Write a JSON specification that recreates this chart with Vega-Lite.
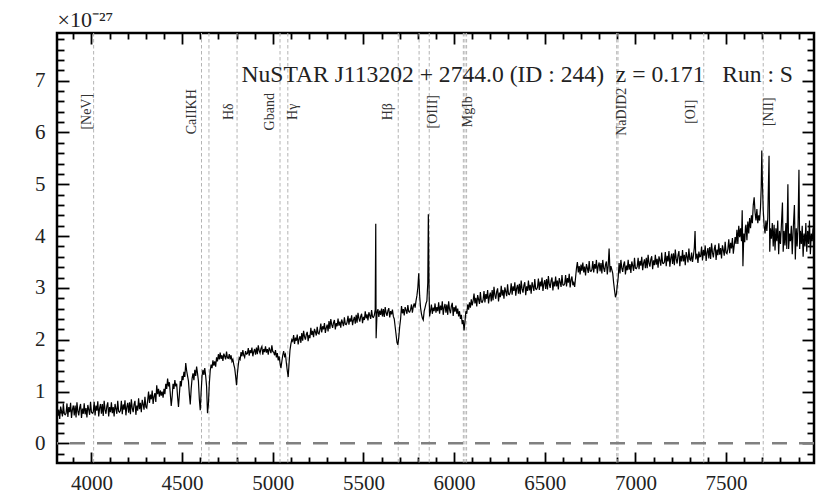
{
  "$schema": "https://vega.github.io/schema/vega-lite/v6.json",
  "width": 757,
  "height": 430,
  "autosize": {"type": "none"},
  "padding": {"left": 57, "top": 33, "right": 16, "bottom": 35},
  "background": "white",
  "config": {
    "view": {"stroke": "black", "strokeWidth": 2.5},
    "axis": {"grid": false, "domain": false, "tickColor": "black", "tickWidth": 1.8, "labelFont": "Liberation Serif", "labelFontSize": 21, "labelColor": "#222", "titleFont": "Liberation Serif", "labelOverlap": false, "labelFlush": false}
  },
  "datasets": {
    "spec": [
      {"w":3810,"f":0.74},{"w":3815,"f":0.53},{"w":3820,"f":0.65},{"w":3825,"f":0.47},{"w":3830,"f":0.71},{"w":3835,"f":0.62},{"w":3840,"f":0.52},{"w":3845,"f":0.77},{"w":3850,"f":0.57},{"w":3855,"f":0.55},
      {"w":3860,"f":0.58},{"w":3865,"f":0.77},{"w":3870,"f":0.51},{"w":3875,"f":0.70},{"w":3880,"f":0.60},{"w":3885,"f":0.78},{"w":3890,"f":0.49},{"w":3895,"f":0.65},{"w":3900,"f":0.73},{"w":3905,"f":0.54},
      {"w":3910,"f":0.73},{"w":3915,"f":0.50},{"w":3920,"f":0.79},{"w":3925,"f":0.62},{"w":3930,"f":0.54},{"w":3935,"f":0.69},{"w":3940,"f":0.76},{"w":3945,"f":0.49},{"w":3950,"f":0.67},{"w":3955,"f":0.57},
      {"w":3960,"f":0.77},{"w":3965,"f":0.56},{"w":3970,"f":0.68},{"w":3975,"f":0.50},{"w":3980,"f":0.74},{"w":3985,"f":0.65},{"w":3990,"f":0.55},{"w":3995,"f":0.80},{"w":4000,"f":0.60},{"w":4005,"f":0.58},
      {"w":4010,"f":0.61},{"w":4015,"f":0.80},{"w":4020,"f":0.54},{"w":4025,"f":0.73},{"w":4030,"f":0.63},{"w":4035,"f":0.81},{"w":4040,"f":0.52},{"w":4045,"f":0.68},{"w":4050,"f":0.76},{"w":4055,"f":0.57},
      {"w":4060,"f":0.76},{"w":4065,"f":0.53},{"w":4070,"f":0.82},{"w":4075,"f":0.65},{"w":4080,"f":0.57},{"w":4085,"f":0.72},{"w":4090,"f":0.79},{"w":4095,"f":0.52},{"w":4100,"f":0.70},{"w":4105,"f":0.60},
      {"w":4110,"f":0.79},{"w":4115,"f":0.58},{"w":4120,"f":0.70},{"w":4125,"f":0.52},{"w":4130,"f":0.76},{"w":4135,"f":0.67},{"w":4140,"f":0.57},{"w":4145,"f":0.82},{"w":4150,"f":0.62},{"w":4155,"f":0.60},
      {"w":4160,"f":0.63},{"w":4165,"f":0.82},{"w":4170,"f":0.56},{"w":4175,"f":0.75},{"w":4180,"f":0.65},{"w":4185,"f":0.83},{"w":4190,"f":0.54},{"w":4195,"f":0.70},{"w":4200,"f":0.78},{"w":4205,"f":0.59},
      {"w":4210,"f":0.79},{"w":4215,"f":0.56},{"w":4220,"f":0.85},{"w":4225,"f":0.68},{"w":4230,"f":0.60},{"w":4235,"f":0.75},{"w":4240,"f":0.82},{"w":4245,"f":0.55},{"w":4250,"f":0.73},{"w":4255,"f":0.63},
      {"w":4260,"f":0.87},{"w":4265,"f":0.66},{"w":4270,"f":0.78},{"w":4275,"f":0.60},{"w":4280,"f":0.84},{"w":4285,"f":0.75},{"w":4290,"f":0.65},{"w":4295,"f":0.90},{"w":4300,"f":0.70},{"w":4305,"f":0.68},
      {"w":4310,"f":0.83},{"w":4315,"f":1.00},{"w":4320,"f":0.78},{"w":4325,"f":0.94},{"w":4330,"f":0.85},{"w":4335,"f":1.02},{"w":4340,"f":0.76},{"w":4345,"f":0.90},{"w":4350,"f":0.97},{"w":4355,"f":0.80},
      {"w":4360,"f":1.12},{"w":4365,"f":0.95},{"w":4370,"f":1.05},{"w":4375,"f":0.90},{"w":4380,"f":1.02},{"w":4385,"f":0.92},{"w":4390,"f":1.00},{"w":4395,"f":0.88},{"w":4400,"f":1.05},{"w":4405,"f":0.95},
      {"w":4410,"f":1.15},{"w":4415,"f":1.05},{"w":4420,"f":1.25},{"w":4425,"f":1.10},{"w":4430,"f":1.18},{"w":4435,"f":0.95},{"w":4440,"f":0.72},{"w":4445,"f":0.90},{"w":4450,"f":1.15},{"w":4455,"f":1.05},
      {"w":4460,"f":1.22},{"w":4465,"f":1.10},{"w":4470,"f":1.15},{"w":4475,"f":0.90},{"w":4480,"f":0.70},{"w":4485,"f":0.95},{"w":4490,"f":1.20},{"w":4495,"f":1.10},{"w":4500,"f":1.30},{"w":4505,"f":1.22},
      {"w":4510,"f":1.38},{"w":4515,"f":1.28},{"w":4520,"f":1.55},{"w":4525,"f":1.40},{"w":4530,"f":1.30},{"w":4535,"f":1.20},{"w":4540,"f":0.95},{"w":4545,"f":0.75},{"w":4550,"f":1.05},{"w":4555,"f":1.25},
      {"w":4560,"f":1.35},{"w":4565,"f":1.22},{"w":4570,"f":1.42},{"w":4575,"f":1.30},{"w":4580,"f":1.48},{"w":4585,"f":1.35},{"w":4590,"f":1.20},{"w":4595,"f":0.85},{"w":4600,"f":0.64},{"w":4605,"f":1.00},
      {"w":4610,"f":1.30},{"w":4615,"f":1.42},{"w":4620,"f":1.32},{"w":4625,"f":1.45},{"w":4630,"f":1.30},{"w":4635,"f":1.10},{"w":4640,"f":0.58},{"w":4645,"f":0.75},{"w":4650,"f":1.15},{"w":4655,"f":1.40},
      {"w":4660,"f":1.52},{"w":4665,"f":1.45},{"w":4670,"f":1.60},{"w":4675,"f":1.50},{"w":4680,"f":1.58},{"w":4685,"f":1.48},{"w":4690,"f":1.66},{"w":4695,"f":1.58},{"w":4700,"f":1.72},{"w":4705,"f":1.62},
      {"w":4710,"f":1.75},{"w":4715,"f":1.63},{"w":4720,"f":1.70},{"w":4725,"f":1.59},{"w":4730,"f":1.73},{"w":4735,"f":1.68},{"w":4740,"f":1.62},{"w":4745,"f":1.77},{"w":4750,"f":1.65},{"w":4755,"f":1.64},
      {"w":4760,"f":1.72},{"w":4765,"f":1.62},{"w":4770,"f":1.70},{"w":4775,"f":1.58},{"w":4780,"f":1.62},{"w":4785,"f":1.52},{"w":4790,"f":1.45},{"w":4795,"f":1.30},{"w":4800,"f":1.12},{"w":4805,"f":1.35},
      {"w":4810,"f":1.52},{"w":4815,"f":1.65},{"w":4820,"f":1.62},{"w":4825,"f":1.76},{"w":4830,"f":1.68},{"w":4835,"f":1.80},{"w":4840,"f":1.70},{"w":4845,"f":1.66},{"w":4850,"f":1.78},{"w":4855,"f":1.72},
      {"w":4860,"f":1.73},{"w":4865,"f":1.84},{"w":4870,"f":1.69},{"w":4875,"f":1.80},{"w":4880,"f":1.74},{"w":4885,"f":1.85},{"w":4890,"f":1.68},{"w":4895,"f":1.77},{"w":4900,"f":1.82},{"w":4905,"f":1.71},
      {"w":4910,"f":1.85},{"w":4915,"f":1.72},{"w":4920,"f":1.89},{"w":4925,"f":1.79},{"w":4930,"f":1.74},{"w":4935,"f":1.83},{"w":4940,"f":1.87},{"w":4945,"f":1.71},{"w":4950,"f":1.82},{"w":4955,"f":1.76},
      {"w":4960,"f":1.87},{"w":4965,"f":1.75},{"w":4970,"f":1.82},{"w":4975,"f":1.71},{"w":4980,"f":1.85},{"w":4985,"f":1.80},{"w":4990,"f":1.74},{"w":4995,"f":1.89},{"w":5000,"f":1.77},{"w":5005,"f":1.76},
      {"w":5010,"f":1.70},{"w":5015,"f":1.80},{"w":5020,"f":1.66},{"w":5025,"f":1.74},{"w":5030,"f":1.60},{"w":5035,"f":1.68},{"w":5040,"f":1.55},{"w":5045,"f":1.45},{"w":5050,"f":1.58},{"w":5055,"f":1.70},
      {"w":5060,"f":1.78},{"w":5065,"f":1.68},{"w":5070,"f":1.72},{"w":5075,"f":1.55},{"w":5080,"f":1.40},{"w":5085,"f":1.28},{"w":5090,"f":1.55},{"w":5095,"f":1.80},{"w":5100,"f":1.92},{"w":5105,"f":2.00},
      {"w":5110,"f":1.97},{"w":5115,"f":2.09},{"w":5120,"f":1.92},{"w":5125,"f":2.04},{"w":5130,"f":1.98},{"w":5135,"f":2.10},{"w":5140,"f":1.91},{"w":5145,"f":2.01},{"w":5150,"f":2.07},{"w":5155,"f":1.94},
      {"w":5160,"f":2.13},{"w":5165,"f":1.98},{"w":5170,"f":2.17},{"w":5175,"f":2.06},{"w":5180,"f":2.00},{"w":5185,"f":2.10},{"w":5190,"f":2.15},{"w":5195,"f":1.97},{"w":5200,"f":2.09},{"w":5205,"f":2.03},
      {"w":5210,"f":2.23},{"w":5215,"f":2.09},{"w":5220,"f":2.17},{"w":5225,"f":2.05},{"w":5230,"f":2.21},{"w":5235,"f":2.15},{"w":5240,"f":2.08},{"w":5245,"f":2.25},{"w":5250,"f":2.12},{"w":5255,"f":2.11},
      {"w":5260,"f":2.19},{"w":5265,"f":2.31},{"w":5270,"f":2.14},{"w":5275,"f":2.26},{"w":5280,"f":2.20},{"w":5285,"f":2.32},{"w":5290,"f":2.13},{"w":5295,"f":2.23},{"w":5300,"f":2.29},{"w":5305,"f":2.16},
      {"w":5310,"f":2.36},{"w":5315,"f":2.21},{"w":5320,"f":2.40},{"w":5325,"f":2.29},{"w":5330,"f":2.23},{"w":5335,"f":2.33},{"w":5340,"f":2.38},{"w":5345,"f":2.20},{"w":5350,"f":2.32},{"w":5355,"f":2.26},
      {"w":5360,"f":2.41},{"w":5365,"f":2.27},{"w":5370,"f":2.35},{"w":5375,"f":2.23},{"w":5380,"f":2.39},{"w":5385,"f":2.33},{"w":5390,"f":2.26},{"w":5395,"f":2.43},{"w":5400,"f":2.30},{"w":5405,"f":2.29},
      {"w":5410,"f":2.34},{"w":5415,"f":2.46},{"w":5420,"f":2.29},{"w":5425,"f":2.41},{"w":5430,"f":2.35},{"w":5435,"f":2.47},{"w":5440,"f":2.28},{"w":5445,"f":2.38},{"w":5450,"f":2.44},{"w":5455,"f":2.31},
      {"w":5460,"f":2.48},{"w":5465,"f":2.33},{"w":5470,"f":2.52},{"w":5475,"f":2.41},{"w":5480,"f":2.35},{"w":5485,"f":2.45},{"w":5490,"f":2.50},{"w":5495,"f":2.32},{"w":5500,"f":2.44},{"w":5505,"f":2.38},
      {"w":5510,"f":2.55},{"w":5515,"f":2.41},{"w":5520,"f":2.49},{"w":5525,"f":2.37},{"w":5530,"f":2.53},{"w":5535,"f":2.47},{"w":5540,"f":2.40},{"w":5545,"f":2.57},{"w":5550,"f":2.44},{"w":5555,"f":2.43},
      {"w":5560,"f":2.47},{"w":5565,"f":2.58},{"w":5568,"f":4.24},{"w":5570,"f":2.03},{"w":5575,"f":2.52},{"w":5580,"f":2.59},{"w":5585,"f":2.44},{"w":5590,"f":2.56},{"w":5595,"f":2.48},{"w":5600,"f":2.60},{"w":5605,"f":2.45},
      {"w":5610,"f":2.59},{"w":5615,"f":2.44},{"w":5620,"f":2.63},{"w":5625,"f":2.52},{"w":5630,"f":2.46},{"w":5635,"f":2.56},{"w":5640,"f":2.61},{"w":5645,"f":2.43},{"w":5650,"f":2.55},{"w":5655,"f":2.49},
      {"w":5660,"f":2.58},{"w":5665,"f":2.45},{"w":5670,"f":2.40},{"w":5675,"f":2.25},{"w":5680,"f":2.10},{"w":5685,"f":1.95},{"w":5690,"f":1.90},{"w":5695,"f":2.05},{"w":5700,"f":2.25},{"w":5705,"f":2.40},
      {"w":5710,"f":2.65},{"w":5715,"f":2.51},{"w":5720,"f":2.59},{"w":5725,"f":2.47},{"w":5730,"f":2.63},{"w":5735,"f":2.57},{"w":5740,"f":2.50},{"w":5745,"f":2.67},{"w":5750,"f":2.54},{"w":5755,"f":2.53},
      {"w":5760,"f":2.58},{"w":5765,"f":2.68},{"w":5770,"f":2.52},{"w":5775,"f":2.64},{"w":5780,"f":2.70},{"w":5785,"f":2.62},{"w":5790,"f":2.75},{"w":5795,"f":2.85},{"w":5800,"f":3.00},{"w":5805,"f":3.28},
      {"w":5810,"f":2.85},{"w":5815,"f":2.62},{"w":5820,"f":2.50},{"w":5825,"f":2.42},{"w":5830,"f":2.38},{"w":5835,"f":2.55},{"w":5840,"f":2.62},{"w":5845,"f":2.70},{"w":5850,"f":2.75},{"w":5855,"f":3.10},
      {"w":5858,"f":4.42},{"w":5862,"f":2.95},{"w":5865,"f":2.45},{"w":5870,"f":2.55},{"w":5875,"f":2.68},{"w":5880,"f":2.50},{"w":5885,"f":2.62},{"w":5890,"f":2.55},{"w":5895,"f":2.70},{"w":5900,"f":2.52},{"w":5905,"f":2.63},
      {"w":5910,"f":2.55},{"w":5915,"f":2.72},{"w":5920,"f":2.50},{"w":5925,"f":2.66},{"w":5930,"f":2.57},{"w":5935,"f":2.74},{"w":5940,"f":2.48},{"w":5945,"f":2.62},{"w":5950,"f":2.69},{"w":5955,"f":2.52},
      {"w":5960,"f":2.68},{"w":5965,"f":2.48},{"w":5970,"f":2.74},{"w":5975,"f":2.58},{"w":5980,"f":2.51},{"w":5985,"f":2.65},{"w":5990,"f":2.71},{"w":5995,"f":2.46},{"w":6000,"f":2.63},{"w":6005,"f":2.54},
      {"w":6010,"f":2.66},{"w":6015,"f":2.50},{"w":6020,"f":2.60},{"w":6025,"f":2.45},{"w":6030,"f":2.55},{"w":6035,"f":2.40},{"w":6040,"f":2.48},{"w":6045,"f":2.30},{"w":6050,"f":2.38},{"w":6055,"f":2.18},
      {"w":6060,"f":2.35},{"w":6065,"f":2.55},{"w":6070,"f":2.50},{"w":6075,"f":2.68},{"w":6080,"f":2.58},{"w":6085,"f":2.72},{"w":6090,"f":2.62},{"w":6095,"f":2.78},{"w":6100,"f":2.66},{"w":6105,"f":2.75},
      {"w":6110,"f":2.89},{"w":6115,"f":2.70},{"w":6120,"f":2.81},{"w":6125,"f":2.64},{"w":6130,"f":2.86},{"w":6135,"f":2.78},{"w":6140,"f":2.69},{"w":6145,"f":2.92},{"w":6150,"f":2.73},{"w":6155,"f":2.72},
      {"w":6160,"f":2.77},{"w":6165,"f":2.94},{"w":6170,"f":2.72},{"w":6175,"f":2.88},{"w":6180,"f":2.79},{"w":6185,"f":2.96},{"w":6190,"f":2.70},{"w":6195,"f":2.84},{"w":6200,"f":2.91},{"w":6205,"f":2.74},
      {"w":6210,"f":2.96},{"w":6215,"f":2.76},{"w":6220,"f":3.02},{"w":6225,"f":2.86},{"w":6230,"f":2.79},{"w":6235,"f":2.93},{"w":6240,"f":2.99},{"w":6245,"f":2.74},{"w":6250,"f":2.91},{"w":6255,"f":2.82},
      {"w":6260,"f":3.04},{"w":6265,"f":2.85},{"w":6270,"f":2.96},{"w":6275,"f":2.79},{"w":6280,"f":3.01},{"w":6285,"f":2.93},{"w":6290,"f":2.84},{"w":6295,"f":3.07},{"w":6300,"f":2.88},{"w":6305,"f":2.87},
      {"w":6310,"f":2.92},{"w":6315,"f":3.09},{"w":6320,"f":2.87},{"w":6325,"f":3.03},{"w":6330,"f":2.94},{"w":6335,"f":3.11},{"w":6340,"f":2.85},{"w":6345,"f":2.99},{"w":6350,"f":3.06},{"w":6355,"f":2.89},
      {"w":6360,"f":3.08},{"w":6365,"f":2.88},{"w":6370,"f":3.14},{"w":6375,"f":2.98},{"w":6380,"f":2.91},{"w":6385,"f":3.05},{"w":6390,"f":3.11},{"w":6395,"f":2.86},{"w":6400,"f":3.03},{"w":6405,"f":2.94},
      {"w":6410,"f":3.14},{"w":6415,"f":2.95},{"w":6420,"f":3.06},{"w":6425,"f":2.89},{"w":6430,"f":3.11},{"w":6435,"f":3.03},{"w":6440,"f":2.94},{"w":6445,"f":3.17},{"w":6450,"f":2.98},{"w":6455,"f":2.97},
      {"w":6460,"f":3.01},{"w":6465,"f":3.18},{"w":6470,"f":2.96},{"w":6475,"f":3.12},{"w":6480,"f":3.03},{"w":6485,"f":3.20},{"w":6490,"f":2.94},{"w":6495,"f":3.08},{"w":6500,"f":3.15},{"w":6505,"f":2.98},
      {"w":6510,"f":3.17},{"w":6515,"f":2.97},{"w":6520,"f":3.23},{"w":6525,"f":3.07},{"w":6530,"f":3.00},{"w":6535,"f":3.14},{"w":6540,"f":3.20},{"w":6545,"f":2.95},{"w":6550,"f":3.12},{"w":6555,"f":3.03},
      {"w":6560,"f":3.22},{"w":6565,"f":3.03},{"w":6570,"f":3.14},{"w":6575,"f":2.97},{"w":6580,"f":3.19},{"w":6585,"f":3.11},{"w":6590,"f":3.02},{"w":6595,"f":3.25},{"w":6600,"f":3.06},{"w":6605,"f":3.05},
      {"w":6610,"f":3.08},{"w":6615,"f":3.25},{"w":6620,"f":3.03},{"w":6625,"f":3.19},{"w":6630,"f":3.10},{"w":6635,"f":3.27},{"w":6640,"f":3.01},{"w":6645,"f":3.15},{"w":6650,"f":3.22},{"w":6655,"f":3.05},
      {"w":6660,"f":3.10},{"w":6665,"f":3.02},{"w":6670,"f":3.20},{"w":6675,"f":3.38},{"w":6680,"f":3.50},{"w":6685,"f":3.30},{"w":6690,"f":3.42},{"w":6695,"f":3.26},{"w":6700,"f":3.45},{"w":6705,"f":3.33},
      {"w":6710,"f":3.49},{"w":6715,"f":3.30},{"w":6720,"f":3.41},{"w":6725,"f":3.24},{"w":6730,"f":3.46},{"w":6735,"f":3.38},{"w":6740,"f":3.29},{"w":6745,"f":3.52},{"w":6750,"f":3.33},{"w":6755,"f":3.32},
      {"w":6760,"f":3.35},{"w":6765,"f":3.52},{"w":6770,"f":3.30},{"w":6775,"f":3.46},{"w":6780,"f":3.37},{"w":6785,"f":3.54},{"w":6790,"f":3.28},{"w":6795,"f":3.42},{"w":6800,"f":3.49},{"w":6805,"f":3.32},
      {"w":6810,"f":3.48},{"w":6815,"f":3.28},{"w":6820,"f":3.54},{"w":6825,"f":3.38},{"w":6830,"f":3.31},{"w":6835,"f":3.45},{"w":6840,"f":3.51},{"w":6845,"f":3.26},{"w":6850,"f":3.43},{"w":6855,"f":3.76},
      {"w":6860,"f":3.30},{"w":6865,"f":3.42},{"w":6870,"f":3.35},{"w":6875,"f":3.28},{"w":6880,"f":3.10},{"w":6885,"f":2.95},{"w":6890,"f":2.82},{"w":6895,"f":2.88},{"w":6900,"f":3.05},{"w":6905,"f":3.20},
      {"w":6910,"f":3.48},{"w":6915,"f":3.28},{"w":6920,"f":3.54},{"w":6925,"f":3.38},{"w":6930,"f":3.31},{"w":6935,"f":3.45},{"w":6940,"f":3.51},{"w":6945,"f":3.26},{"w":6950,"f":3.43},{"w":6955,"f":3.34},
      {"w":6960,"f":3.54},{"w":6965,"f":3.35},{"w":6970,"f":3.46},{"w":6975,"f":3.29},{"w":6980,"f":3.51},{"w":6985,"f":3.43},{"w":6990,"f":3.33},{"w":6995,"f":3.58},{"w":7000,"f":3.38},{"w":7005,"f":3.37},
      {"w":7010,"f":3.41},{"w":7015,"f":3.58},{"w":7020,"f":3.36},{"w":7025,"f":3.52},{"w":7030,"f":3.43},{"w":7035,"f":3.60},{"w":7040,"f":3.34},{"w":7045,"f":3.48},{"w":7050,"f":3.55},{"w":7055,"f":3.38},
      {"w":7060,"f":3.58},{"w":7065,"f":3.38},{"w":7070,"f":3.64},{"w":7075,"f":3.48},{"w":7080,"f":3.41},{"w":7085,"f":3.55},{"w":7090,"f":3.61},{"w":7095,"f":3.36},{"w":7100,"f":3.53},{"w":7105,"f":3.44},
      {"w":7110,"f":3.64},{"w":7115,"f":3.45},{"w":7120,"f":3.56},{"w":7125,"f":3.39},{"w":7130,"f":3.61},{"w":7135,"f":3.53},{"w":7140,"f":3.43},{"w":7145,"f":3.68},{"w":7150,"f":3.48},{"w":7155,"f":3.47},
      {"w":7160,"f":3.50},{"w":7165,"f":3.69},{"w":7170,"f":3.42},{"w":7175,"f":3.62},{"w":7180,"f":3.51},{"w":7185,"f":3.71},{"w":7190,"f":3.41},{"w":7195,"f":3.57},{"w":7200,"f":3.66},{"w":7205,"f":3.46},
      {"w":7210,"f":3.67},{"w":7215,"f":3.44},{"w":7220,"f":3.74},{"w":7225,"f":3.56},{"w":7230,"f":3.47},{"w":7235,"f":3.63},{"w":7240,"f":3.71},{"w":7245,"f":3.42},{"w":7250,"f":3.62},{"w":7255,"f":3.51},
      {"w":7260,"f":3.73},{"w":7265,"f":3.51},{"w":7270,"f":3.64},{"w":7275,"f":3.44},{"w":7280,"f":3.69},{"w":7285,"f":3.60},{"w":7290,"f":3.49},{"w":7295,"f":3.76},{"w":7300,"f":3.55},{"w":7305,"f":3.53},
      {"w":7310,"f":3.68},{"w":7315,"f":3.50},{"w":7320,"f":3.62},{"w":7325,"f":3.78},{"w":7329,"f":4.10},{"w":7333,"f":3.55},{"w":7340,"f":3.66},{"w":7345,"f":3.48},{"w":7350,"f":3.70},{"w":7355,"f":3.60},
      {"w":7360,"f":3.61},{"w":7365,"f":3.80},{"w":7370,"f":3.53},{"w":7375,"f":3.73},{"w":7380,"f":3.62},{"w":7385,"f":3.82},{"w":7390,"f":3.52},{"w":7395,"f":3.68},{"w":7400,"f":3.77},{"w":7405,"f":3.57},
      {"w":7410,"f":3.79},{"w":7415,"f":3.56},{"w":7420,"f":3.86},{"w":7425,"f":3.68},{"w":7430,"f":3.59},{"w":7435,"f":3.75},{"w":7440,"f":3.83},{"w":7445,"f":3.54},{"w":7450,"f":3.74},{"w":7455,"f":3.63},
      {"w":7460,"f":3.86},{"w":7465,"f":3.64},{"w":7470,"f":3.77},{"w":7475,"f":3.57},{"w":7480,"f":3.82},{"w":7485,"f":3.73},{"w":7490,"f":3.62},{"w":7495,"f":3.89},{"w":7500,"f":3.68},{"w":7505,"f":3.66},
      {"w":7510,"f":3.75},{"w":7515,"f":3.94},{"w":7520,"f":3.67},{"w":7525,"f":3.87},{"w":7530,"f":3.76},{"w":7535,"f":3.96},{"w":7540,"f":3.66},{"w":7545,"f":3.82},{"w":7550,"f":3.98},{"w":7555,"f":3.85},
      {"w":7560,"f":4.12},{"w":7565,"f":3.85},{"w":7570,"f":4.20},{"w":7575,"f":3.98},{"w":7580,"f":4.15},{"w":7585,"f":3.90},{"w":7589,"f":4.50},{"w":7593,"f":3.42},{"w":7598,"f":4.05},{"w":7603,"f":3.88},{"w":7607,"f":4.18},
      {"w":7610,"f":4.22},{"w":7615,"f":3.92},{"w":7620,"f":4.28},{"w":7625,"f":4.05},{"w":7630,"f":4.35},{"w":7635,"f":4.15},{"w":7640,"f":4.40},{"w":7645,"f":4.25},{"w":7650,"f":4.60},{"w":7655,"f":4.75},
      {"w":7660,"f":4.45},{"w":7665,"f":4.30},{"w":7670,"f":4.52},{"w":7675,"f":4.25},{"w":7680,"f":4.40},{"w":7685,"f":4.30},{"w":7690,"f":4.55},{"w":7694,"f":4.95},{"w":7697,"f":5.65},{"w":7700,"f":5.10},{"w":7705,"f":4.50},
      {"w":7710,"f":4.20},{"w":7715,"f":4.05},{"w":7720,"f":4.30},{"w":7725,"f":4.10},{"w":7730,"f":4.35},{"w":7737,"f":5.55},{"w":7741,"f":3.70},{"w":7745,"f":4.15},{"w":7750,"f":3.95},{"w":7755,"f":4.25},
      {"w":7760,"f":3.80},{"w":7765,"f":4.22},{"w":7770,"f":3.72},{"w":7775,"f":4.15},{"w":7780,"f":3.90},{"w":7785,"f":4.30},{"w":7790,"f":3.65},{"w":7795,"f":4.10},{"w":7800,"f":3.85},{"w":7805,"f":4.20},
      {"w":7811,"f":4.65},{"w":7815,"f":3.70},{"w":7820,"f":4.10},{"w":7825,"f":3.82},{"w":7830,"f":4.25},{"w":7835,"f":3.75},{"w":7841,"f":5.00},{"w":7845,"f":3.75},{"w":7850,"f":4.05},{"w":7855,"f":3.90},
      {"w":7860,"f":4.20},{"w":7865,"f":3.65},{"w":7870,"f":4.10},{"w":7877,"f":4.60},{"w":7882,"f":3.55},{"w":7887,"f":4.15},{"w":7892,"f":3.80},{"w":7897,"f":4.20},{"w":7902,"f":5.28},{"w":7906,"f":3.75},
      {"w":7910,"f":4.10},{"w":7915,"f":3.85},{"w":7920,"f":4.20},{"w":7925,"f":3.60},{"w":7930,"f":4.05},{"w":7935,"f":3.80},{"w":7940,"f":4.25},{"w":7945,"f":3.70},{"w":7950,"f":4.10},{"w":7955,"f":3.85},
      {"w":7960,"f":4.30},{"w":7965,"f":3.65},{"w":7970,"f":4.05},{"w":7975,"f":3.90},{"w":7980,"f":4.15},{"w":7985,"f":3.95}
    ],
    "lines": [
      {"w":4012},{"w":4607},{"w":4648},{"w":4803},{"w":5040},{"w":5083},{"w":5692},{"w":5807},{"w":5863},{"w":6051},{"w":6060},{"w":6069},{"w":6897},{"w":6904},{"w":7377},{"w":7705}
    ],
    "labels": [
      {"w":3975,"name":"[NeV]"},{"w":4557,"name":"CaIIKH"},{"w":4758,"name":"Hδ"},{"w":4987,"name":"Gband"},{"w":5114,"name":"Hγ"},{"w":5638,"name":"Hβ"},{"w":5886,"name":"[OIII]"},{"w":6079,"name":"MgIb"},{"w":6926,"name":"NaDID2"},{"w":7309,"name":"[OI]"},{"w":7737,"name":"[NII]"}
    ],
    "info": [{"t":"NuSTAR J113202 + 2744.0 (ID : 244)\u00a0\u00a0z = 0.171\u00a0\u00a0\u00a0Run : S"}]
  },
  "resolve": {"axis": {"x": "independent", "y": "independent"}},
  "layer": [
    {
      "data": {"name": "lines"},
      "mark": {"type": "rule", "color": "#b4b4b4", "strokeWidth": 1, "strokeDash": [3.5, 2.5]},
      "encoding": {
        "x": {"field": "w", "type": "quantitative", "scale": {"domain": [3810, 7985], "nice": false, "zero": false},
          "axis": {"orient": "top", "tickCount": 100, "values": [3900,4000,4100,4200,4300,4400,4500,4600,4700,4800,4900,5000,5100,5200,5300,5400,5500,5600,5700,5800,5900,6000,6100,6200,6300,6400,6500,6600,6700,6800,6900,7000,7100,7200,7300,7400,7500,7600,7700,7800,7900],
            "labels": false, "title": null, "tickSize": {"condition": {"test": "datum.value % 500 === 0", "value": -11}, "value": -6}}}
      }
    },
    {
      "data": {"name": "spec"},
      "mark": {"type": "line", "color": "black", "strokeWidth": 1.2, "clip": true},
      "encoding": {
        "x": {"field": "w", "type": "quantitative",
          "axis": {"orient": "bottom", "tickCount": 100, "values": [3900,4000,4100,4200,4300,4400,4500,4600,4700,4800,4900,5000,5100,5200,5300,5400,5500,5600,5700,5800,5900,6000,6100,6200,6300,6400,6500,6600,6700,6800,6900,7000,7100,7200,7300,7400,7500,7600,7700,7800,7900],
            "labelExpr": "datum.value % 500 === 0 ? format(datum.value, 'd') : ''", "labelPadding": 20, "title": null,
            "tickSize": {"condition": {"test": "datum.value % 500 === 0", "value": -11}, "value": -6}}},
        "y": {"field": "f", "type": "quantitative", "scale": {"domain": [-0.38, 7.92], "nice": false, "zero": false},
          "axis": {"orient": "left", "tickCount": 100, "tickMinStep": 0.01, "values": [-0.2,0,0.2,0.4,0.6,0.8,1,1.2,1.4,1.6,1.8,2,2.2,2.4,2.6,2.8,3,3.2,3.4,3.6,3.8,4,4.2,4.4,4.6,4.8,5,5.2,5.4,5.6,5.8,6,6.2,6.4,6.6,6.8,7,7.2,7.4,7.6,7.8],
            "labelExpr": "datum.value % 1 === 0 ? format(datum.value, 'd') : ''", "labelPadding": 24,
            "tickSize": {"condition": {"test": "datum.value % 1 === 0", "value": -12}, "value": -7},
            "title": "×10⁻²⁷", "titleAngle": 0, "titleX": 0, "titleY": -7, "titleAlign": "left", "titleBaseline": "alphabetic", "titleFontSize": 22, "titleFontWeight": "normal", "titleColor": "#222"}}
      }
    },
    {
      "data": {"values": [{"z": 0}]},
      "mark": {"type": "rule", "color": "#808080", "strokeWidth": 2.5, "strokeDash": [15, 12]},
      "encoding": {
        "y": {"field": "z", "type": "quantitative", "axis": {"orient": "right", "tickCount": 100, "tickMinStep": 0.01, "values": [-0.2,0,0.2,0.4,0.6,0.8,1,1.2,1.4,1.6,1.8,2,2.2,2.4,2.6,2.8,3,3.2,3.4,3.6,3.8,4,4.2,4.4,4.6,4.8,5,5.2,5.4,5.6,5.8,6,6.2,6.4,6.6,6.8,7,7.2,7.4,7.6,7.8],
            "labels": false, "title": null, "tickSize": {"condition": {"test": "datum.value % 1 === 0", "value": -12}, "value": -7}}}
      }
    },
    {
      "data": {"name": "labels"},
      "mark": {"type": "text", "angle": 270, "align": "center", "baseline": "middle", "font": "Liberation Serif", "fontSize": 14, "color": "#333"},
      "encoding": {
        "x": {"field": "w", "type": "quantitative", "axis": null},
        "y": {"datum": 6.4, "type": "quantitative", "axis": null},
        "text": {"field": "name"}
      }
    },
    {
      "data": {"name": "info"},
      "mark": {"type": "text", "align": "right", "baseline": "alphabetic", "font": "Liberation Serif", "fontSize": 23.6, "color": "#222"},
      "encoding": {
        "x": {"datum": 7869, "type": "quantitative", "axis": null},
        "y": {"datum": 6.97, "type": "quantitative", "axis": null},
        "text": {"field": "t"}
      }
    }
  ]
}
